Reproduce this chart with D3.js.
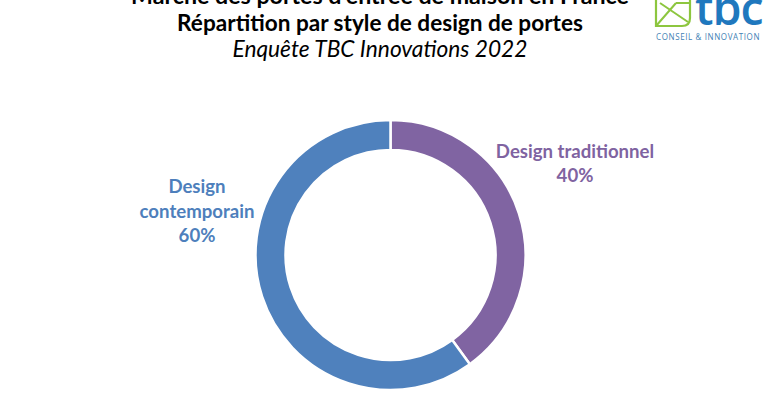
<!DOCTYPE html>
<html>
<head>
<meta charset="utf-8">
<script src="https://cdn.jsdelivr.net/npm/d3@7"></script>
<style>
  html, body { margin: 0; padding: 0; background: #ffffff; }
  svg { display: block; }
</style>
</head>
<body>
<div id="chart"></div>
<script>
// ---- Data ----
const categories = ["Design traditionnel", "Design contemporain"];
const values = [40, 60];
const labelLines = [["Design traditionnel", "40%"], ["Design", "contemporain", "60%"]];
const titleLines = [
  "Marché des portes d'entrée de maison en France",
  "Répartition par style de design de portes"
];
const subtitle = "Enquête TBC Innovations 2022";

// ---- Layout ----
const W = 777, H = 400;
const colors = d3.scaleOrdinal().domain(categories).range(["#8064A2", "#4F81BD"]);
const labelColors = d3.scaleOrdinal().domain(categories).range(["#7F63A1", "#4E7FBC"]);

const svg = d3.select("#chart").append("svg").attr("width", W).attr("height", H);

function fit(sel, target) {
  const w = sel.node().getComputedTextLength();
  const fs = parseFloat(sel.attr("font-size"));
  sel.attr("font-size", (fs * target / w).toFixed(2));
}

// Titles
const t1 = svg.append("text").attr("x", 380).attr("y", 4).attr("text-anchor", "middle")
  .attr("font-family", "Lato, 'Open Sans', sans-serif").attr("font-weight", "bold")
  .attr("font-size", 20).attr("fill", "#000").text(titleLines[0]);
fit(t1, 498);
const t2 = svg.append("text").attr("x", 380).attr("y", 31).attr("text-anchor", "middle")
  .attr("font-family", "Lato, 'Open Sans', sans-serif").attr("font-weight", "bold")
  .attr("font-size", 20).attr("fill", "#000").text(titleLines[1]);
fit(t2, 406);
const t3 = svg.append("text").attr("x", 380).attr("y", 57).attr("text-anchor", "middle")
  .attr("font-family", "Lato, 'Open Sans', sans-serif").attr("font-style", "italic")
  .attr("font-size", 20).attr("fill", "#000").text(subtitle);
fit(t3, 295);

// Logo
const logo = svg.append("g");
logo.append("path")
  .attr("d", "M656,0 L656,26 L682,26 Q690,26 690,18 L690,0")
  .attr("fill", "none").attr("stroke", "#8DC63F").attr("stroke-width", 2.2);
logo.append("path")
  .attr("d", "M656,26 L676,3 M660,3 L688,22 M676,3 L690,3")
  .attr("fill", "none").attr("stroke", "#8DC63F").attr("stroke-width", 2);
const lt = logo.append("text").attr("x", 695).attr("y", 25)
  .attr("font-family", "'Open Sans', sans-serif").attr("font-size", 38).attr("font-weight", 600)
  .attr("fill", "#1F78BE").attr("letter-spacing", -1).text("tbc");
fit(lt, 67);
const ls = logo.append("text").attr("x", 656).attr("y", 40)
  .attr("font-family", "'Open Sans', sans-serif").attr("font-size", 7)
  .attr("fill", "#3F7FB5").attr("letter-spacing", 0.6).text("CONSEIL & INNOVATION");
fit(ls, 106);

// Donut
const cx = 390.5, cy = 255, rOuter = 135, rInner = 105;
const pie = d3.pie().sort(null).value(d => d.value);
const arcs = pie(categories.map((c, i) => ({ cat: c, value: values[i] })));
const arc = d3.arc().innerRadius(rInner).outerRadius(rOuter);
const g = svg.append("g").attr("transform", `translate(${cx},${cy})`);
g.selectAll("path").data(arcs).join("path")
  .attr("d", arc)
  .attr("fill", d => colors(d.data.cat))
  .attr("stroke", "#fff").attr("stroke-width", 2.5);

// Labels
const labelPos = [{ x: 575, y: 158, lh: 24 }, { x: 197, y: 193, lh: 24.5 }];
labelLines.forEach((lines, i) => {
  const lp = labelPos[i];
  const txt = svg.append("text").attr("text-anchor", "middle")
    .attr("font-family", "Lato, 'Open Sans', sans-serif").attr("font-weight", "bold")
    .attr("font-size", 18.6).attr("fill", labelColors(categories[i]));
  lines.forEach((ln, j) => {
    txt.append("tspan").attr("x", lp.x).attr("y", lp.y + j * lp.lh).text(ln);
  });
});
</script>
</body>
</html>
